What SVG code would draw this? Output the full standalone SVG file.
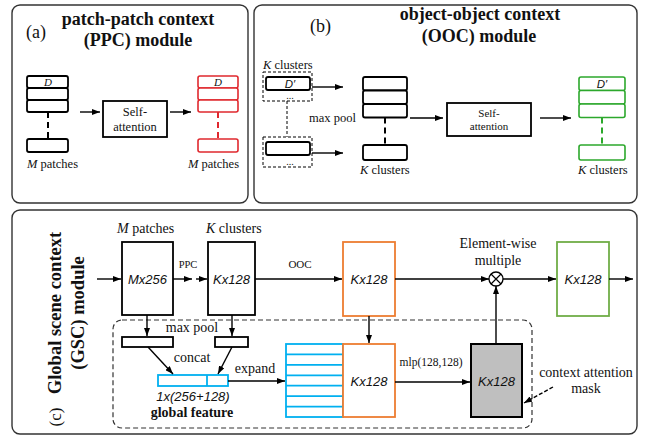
<svg xmlns="http://www.w3.org/2000/svg" width="646" height="437" viewBox="0 0 646 437">
<defs>
<marker id="ah" markerUnits="userSpaceOnUse" markerWidth="8" markerHeight="6" refX="8" refY="3" orient="auto"><path d="M0,0 L8,3 L0,6 z" fill="#000"/></marker>
<style>
.panel{fill:#fff;stroke:#333;stroke-width:1.4}
.cell{fill:#fff;stroke:#000;stroke-width:1.8}
.red{fill:#fff;stroke:#e0282e;stroke-width:1.6}
.grn{fill:#fff;stroke:#2ca82c;stroke-width:1.6}
.box{fill:#fff;stroke:#000;stroke-width:1.8}
.ln{stroke:#000;stroke-width:1.4;fill:none}
.dash{stroke:#000;stroke-width:1;stroke-dasharray:3,2;fill:none}
text{font-family:'Liberation Serif','DejaVu Serif','Times New Roman',serif;fill:#111}
text.sans{font-family:'Liberation Sans','DejaVu Sans',Arial,sans-serif;font-style:italic}
text.bold{font-weight:bold}
</style>
</defs>
<g id="panel-a">
<rect class="panel" x="12" y="5" width="236" height="198" rx="8"/>
<text x="26" y="38" font-size="18">(a)</text>
<text class="bold" x="138" y="25" font-size="18" text-anchor="middle">patch-patch context</text>
<text class="bold" x="138" y="46" font-size="18" text-anchor="middle">(PPC) module</text>
</g>
<g id="ppc-input">
<rect class="cell" x="27" y="76" width="41" height="12" rx="2"/>
<rect class="cell" x="27" y="88" width="41" height="12" rx="2"/>
<rect class="cell" x="27" y="100" width="41" height="12" rx="2"/>
<line x1="48" y1="112" x2="48" y2="139" stroke="#000" stroke-width="2" stroke-dasharray="6,4"/>
<rect class="cell" x="27" y="139" width="41" height="13" rx="2"/>
<text x="48" y="86" font-size="11" font-style="italic" text-anchor="middle">D</text>
<text x="27" y="168" font-size="12.5"><tspan font-style="italic">M</tspan> patches</text>
</g>
<g id="ppc-self-attention">
<rect class="box" x="103" y="101" width="64" height="36"/>
<text x="135" y="116" font-size="12.5" text-anchor="middle">Self-</text>
<text x="135" y="131" font-size="12.5" text-anchor="middle">attention</text>
</g>
<g id="ppc-output">
<rect class="red" x="198" y="76" width="40" height="12" rx="2"/>
<rect class="red" x="198" y="88" width="40" height="12" rx="2"/>
<rect class="red" x="198" y="100" width="40" height="12" rx="2"/>
<line x1="218" y1="112" x2="218" y2="139" stroke="#e0282e" stroke-width="2" stroke-dasharray="6,4"/>
<rect class="red" x="198" y="139" width="40" height="13" rx="2"/>
<text x="218" y="86" font-size="11" font-style="italic" text-anchor="middle">D</text>
<text x="188" y="168" font-size="12.5"><tspan font-style="italic">M</tspan> patches</text>
</g>
<g id="panel-b">
<rect class="panel" x="254" y="5" width="383" height="198" rx="8"/>
<text x="310" y="32" font-size="18">(b)</text>
<text class="bold" x="480" y="20" font-size="18" text-anchor="middle">object-object context</text>
<text class="bold" x="479" y="42" font-size="18" text-anchor="middle">(OOC) module</text>
</g>
<g id="ooc-input">
<text x="263" y="69" font-size="12.5"><tspan font-style="italic">K</tspan> clusters</text>
<rect class="dash" x="263" y="72" width="49" height="29"/>
<rect class="cell" x="266" y="77" width="44" height="13" rx="2"/>
<text class="sans" x="290" y="88" font-size="11.5" text-anchor="middle">D′</text>
<text x="290" y="99" font-size="10" text-anchor="middle">...</text>
<line class="dash" x1="287" y1="101" x2="287" y2="137"/>
<rect class="dash" x="263" y="137" width="49" height="30"/>
<rect class="cell" x="266" y="142" width="44" height="13" rx="2"/>
<text x="290" y="165" font-size="10" text-anchor="middle">...</text>
<text x="309" y="122" font-size="12.5">max pool</text>
</g>
<g id="ooc-clusters">
<rect class="cell" x="363" y="77" width="44" height="13.5" rx="2"/>
<rect class="cell" x="363" y="90.5" width="44" height="13.5" rx="2"/>
<rect class="cell" x="363" y="104" width="44" height="13.5" rx="2"/>
<line x1="385" y1="117.5" x2="385" y2="145" stroke="#000" stroke-width="2" stroke-dasharray="6,4"/>
<rect class="cell" x="363" y="145" width="44" height="15" rx="2"/>
<text x="360" y="174" font-size="12.5"><tspan font-style="italic">K</tspan> clusters</text>
</g>
<g id="ooc-self-attention">
<rect class="box" x="447" y="103" width="84" height="33"/>
<text x="489" y="117" font-size="11" text-anchor="middle">Self-</text>
<text x="489" y="130" font-size="11" text-anchor="middle">attention</text>
</g>
<g id="ooc-output">
<rect class="grn" x="579" y="77" width="46" height="13.5" rx="2"/>
<rect class="grn" x="579" y="90.5" width="46" height="13.5" rx="2"/>
<rect class="grn" x="579" y="104" width="46" height="13.5" rx="2"/>
<line x1="602" y1="117.5" x2="602" y2="145" stroke="#2ca82c" stroke-width="2" stroke-dasharray="6,4"/>
<rect class="grn" x="579" y="145" width="46" height="15" rx="2"/>
<text class="sans" x="602" y="88" font-size="11.5" text-anchor="middle">D′</text>
<text x="578" y="174" font-size="12.5"><tspan font-style="italic">K</tspan> clusters</text>
</g>
<g id="panel-c">
<rect class="panel" x="12" y="210" width="625" height="224" rx="8"/>
<text class="bold" font-size="18.5" text-anchor="middle" transform="translate(61,313) rotate(-90)">Global scene context</text>
<text class="bold" font-size="18.5" text-anchor="middle" transform="translate(84,313) rotate(-90)">(GSC) module</text>
<text font-size="17" text-anchor="middle" transform="translate(61,417) rotate(-90)">(c)</text>
<rect x="113" y="320" width="419" height="108" rx="9" fill="none" stroke="#333" stroke-width="1.2" stroke-dasharray="5,3"/>
</g>
<g id="mx256">
<rect class="box" x="122" y="242" width="51" height="73"/>
<text class="sans" x="147.5" y="284" font-size="13" text-anchor="middle">Mx256</text>
<text x="117" y="233" font-size="14"><tspan font-style="italic">M</tspan> patches</text>
</g>
<g id="kx128-ppc">
<rect class="box" x="208" y="242" width="47" height="73"/>
<text class="sans" x="231.5" y="284" font-size="13" text-anchor="middle">Kx128</text>
<text x="206" y="233" font-size="14"><tspan font-style="italic">K</tspan> clusters</text>
</g>
<g id="kx128-ooc">
<rect x="343" y="242" width="52" height="74" fill="#fff" stroke="#ed7d31" stroke-width="1.8"/>
<text class="sans" x="369" y="284" font-size="13" text-anchor="middle">Kx128</text>
</g>
<g id="multiply">
<circle cx="496" cy="279" r="7" fill="#fff" stroke="#000" stroke-width="1.3"/>
<path d="M491,274 L501,284 M501,274 L491,284" stroke="#000" stroke-width="1.2"/>
<text x="498" y="248" font-size="14" text-anchor="middle">Element-wise</text>
<text x="498" y="265" font-size="14" text-anchor="middle">multiple</text>
</g>
<g id="kx128-out">
<rect x="557" y="242" width="52" height="74" fill="#fff" stroke="#70ad47" stroke-width="1.8"/>
<text class="sans" x="583" y="284" font-size="13" text-anchor="middle">Kx128</text>
</g>
<g id="maxpool-m">
<rect class="box" x="122" y="337" width="51" height="10"/>
</g>
<g id="maxpool-k">
<rect class="box" x="215" y="337" width="33" height="10"/>
<text x="192" y="332" font-size="14" text-anchor="middle">max pool</text>
</g>
<g id="global-feature">
<rect x="158" y="375" width="70" height="11" fill="#fff" stroke="#00b0f0" stroke-width="1.8"/>
<line x1="207" y1="375" x2="207" y2="386" stroke="#00b0f0" stroke-width="1.8"/>
<text x="192" y="362" font-size="14" text-anchor="middle">concat</text>
<text class="sans" x="193" y="401" font-size="13" text-anchor="middle">1x(256+128)</text>
<text class="bold" x="192" y="417" font-size="14" text-anchor="middle">global feature</text>
</g>
<g id="expanded">
<rect x="286" y="344" width="57" height="73" fill="#fff" stroke="#00b0f0" stroke-width="1.8"/>
<path d="M286,354.4 H343 M286,364.9 H343 M286,375.3 H343 M286,385.7 H343 M286,396.1 H343 M286,406.6 H343" stroke="#00b0f0" stroke-width="1.8"/>
<text x="255" y="373" font-size="14" text-anchor="middle">expand</text>
</g>
<g id="kx128-concat">
<rect x="343" y="344" width="52" height="73" fill="#fff" stroke="#ed7d31" stroke-width="1.8"/>
<text class="sans" x="369" y="386" font-size="13" text-anchor="middle">Kx128</text>
</g>
<g id="mask">
<rect x="471" y="344" width="51" height="73" fill="#bfbfbf" stroke="#000" stroke-width="2"/>
<text class="sans" x="496.5" y="386" font-size="13" text-anchor="middle">Kx128</text>
<text x="586" y="377" font-size="14" text-anchor="middle">context attention</text>
<text x="586" y="393" font-size="14" text-anchor="middle">mask</text>
</g>
<g id="connectors">
<line class="ln" x1="80" y1="112" x2="100" y2="112" marker-end="url(#ah)"/>
<line class="ln" x1="170" y1="112" x2="191" y2="112" marker-end="url(#ah)"/>
<line class="ln" x1="312" y1="87" x2="343" y2="87" marker-end="url(#ah)"/>
<line class="ln" x1="312" y1="153" x2="343" y2="153" marker-end="url(#ah)"/>
<line class="ln" x1="410" y1="118" x2="443" y2="118" marker-end="url(#ah)"/>
<line class="ln" x1="540" y1="118" x2="571" y2="118" marker-end="url(#ah)"/>
<line class="ln" x1="97" y1="279" x2="121" y2="279" marker-end="url(#ah)"/>
<line class="ln" x1="173" y1="279" x2="192" y2="279" marker-end="url(#ah)"/>
<line class="ln" x1="196" y1="279" x2="207" y2="279" marker-end="url(#ah)"/>
<text x="188" y="268" font-size="10.5" text-anchor="middle">PPC</text>
<line class="ln" x1="255" y1="279" x2="342" y2="279" marker-end="url(#ah)"/>
<text x="300" y="268" font-size="11" text-anchor="middle">OOC</text>
<line class="ln" x1="395" y1="279" x2="489" y2="279" marker-end="url(#ah)"/>
<line class="ln" x1="503" y1="279" x2="556" y2="279" marker-end="url(#ah)"/>
<line class="ln" x1="609" y1="279" x2="633" y2="279" marker-end="url(#ah)"/>
<line class="ln" x1="369" y1="316" x2="369" y2="343" marker-end="url(#ah)"/>
<line class="ln" x1="496" y1="344" x2="496" y2="286" marker-end="url(#ah)"/>
<line class="ln" x1="395" y1="382" x2="470" y2="382" marker-end="url(#ah)"/>
<text x="431" y="366" font-size="11.5" text-anchor="middle">mlp(128,128)</text>
<line class="ln" x1="147" y1="315" x2="147" y2="336" marker-end="url(#ah)"/>
<line class="ln" x1="232" y1="315" x2="232" y2="336" marker-end="url(#ah)"/>
<line class="ln" x1="148" y1="347" x2="173" y2="374" marker-end="url(#ah)"/>
<line class="ln" x1="232" y1="347" x2="218" y2="374" marker-end="url(#ah)"/>
<line class="ln" x1="228" y1="381" x2="285" y2="381" marker-end="url(#ah)"/>
<line x1="553" y1="387" x2="524" y2="403" stroke="#000" stroke-width="1.4" stroke-dasharray="4,2" marker-end="url(#ah)"/>
</g>
</svg>
